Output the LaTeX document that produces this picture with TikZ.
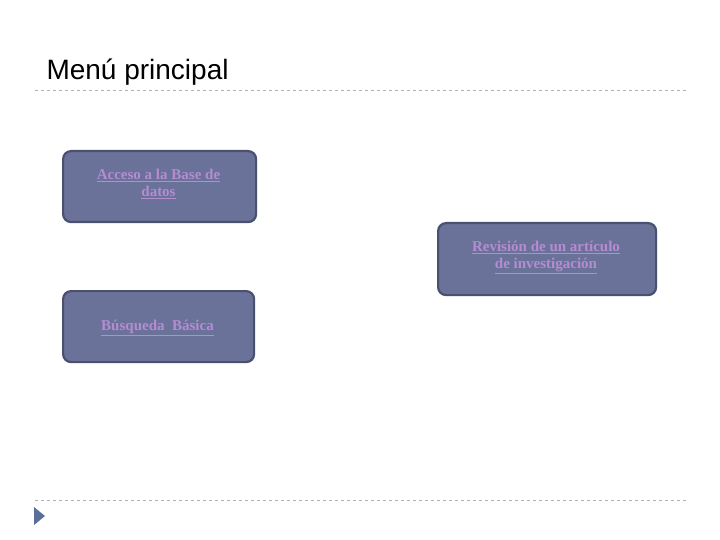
\documentclass[tikz,border=0pt]{standalone}
\usepackage{fontspec}
\setmainfont{Liberation Serif}
\newfontfamily\titlefont{Liberation Sans}
\definecolor{boxfill}{HTML}{6B7299}
\definecolor{boxline}{HTML}{4A5070}
\definecolor{txt}{HTML}{B48CD2}
\definecolor{tri}{HTML}{5A6E9A}
\begin{document}
\begin{tikzpicture}[x=1pt,y=-1pt,
  menubox/.style={draw=boxline,line width=2.2pt,fill=boxfill,rounded corners=8pt,anchor=north west,inner sep=0pt},
  menutext/.style={text=txt,font=\bfseries\fontsize{15}{17}\selectfont,align=center},
  sep/.style={draw=gray!60,dashed,line width=0.7pt}]
\useasboundingbox (0,0) rectangle (720,540);
\node[anchor=base west,font=\titlefont\fontsize{28}{32}\selectfont] (title) at (43,80) {Menú principal};
\coordinate (l1a) at (35,90); \coordinate (l1b) at (686,90);
\draw[sep] (l1a) -- (l1b);
\coordinate (l2a) at (35,500); \coordinate (l2b) at (686,500);
\draw[sep] (l2a) -- (l2b);
\node[fill=tri,draw=none,inner sep=0pt,minimum size=0pt] (mark) at (0,0) {};
\fill[tri] (34,507) -- (45,516) -- (34,525) -- cycle;
\node[menubox,minimum width=193pt,minimum height=71pt] (b1) at (62,150) {};
\node[menutext,anchor=north] (t1) at (158.5,166) {\underline{Acceso a la Base de}\\\underline{datos}};
\node[menubox,minimum width=218pt,minimum height=72pt] (b2) at (437,222) {};
\node[menutext,anchor=north] (t2) at (546,238) {\underline{Revisión de un artículo}\\\underline{de investigación}};
\node[menubox,minimum width=191pt,minimum height=71pt] (b3) at (62,290) {};
\node[menutext,anchor=north] (t3) at (157.5,317) {\underline{Búsqueda\ \ Básica}};
\end{tikzpicture}
\end{document}
